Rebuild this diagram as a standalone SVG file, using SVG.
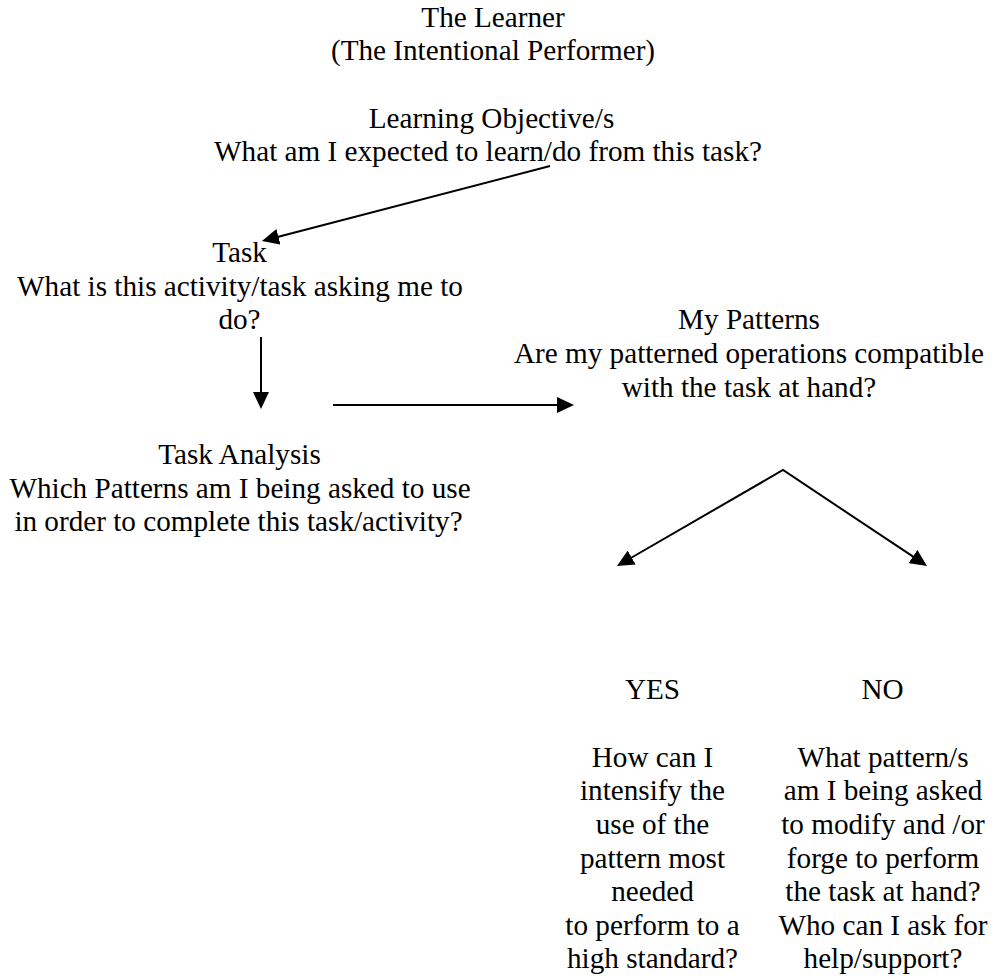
<svg xmlns="http://www.w3.org/2000/svg" width="996" height="979" viewBox="0 0 996 979">
  <style>
    text { font-family: "Liberation Serif", "Times New Roman", serif; font-size: 29.2px; fill: #000; text-anchor: middle; }
    .conn { stroke: #000; stroke-width: 2; fill: none; }
  </style>
  <defs>
    <marker id="arrow" markerUnits="userSpaceOnUse" markerWidth="17" markerHeight="16" refX="3" refY="8" orient="auto-start-reverse" viewBox="0 0 17 16">
      <path d="M0,0 L17,8 L0,16 Z" fill="#000"/>
    </marker>
  </defs>
  <rect width="996" height="979" fill="#fff"/>

  <g id="connectors">
    <line class="conn" x1="550" y1="166" x2="275.5" y2="237.5" marker-end="url(#arrow)"/>
    <line class="conn" x1="261" y1="337" x2="261" y2="395" marker-end="url(#arrow)"/>
    <line class="conn" x1="333" y1="405" x2="560" y2="405" marker-end="url(#arrow)"/>
    <path class="conn" d="M629.1,559 L783,470 L915.4,558.2" marker-start="url(#arrow)" marker-end="url(#arrow)"/>
  </g>

  <g id="learner">
    <text x="493" y="26.7">The Learner</text>
    <text x="493" y="60.3">(The Intentional Performer)</text>
  </g>

  <g id="objective">
    <text x="491.5" y="127.6">Learning Objective/s</text>
    <text x="488" y="161.2">What am I expected to learn/do from this task?</text>
  </g>

  <g id="task">
    <text x="239.5" y="262.1">Task</text>
    <text x="240" y="295.7">What is this activity/task asking me to</text>
    <text x="239.5" y="329.4">do?</text>
  </g>

  <g id="patterns">
    <text x="749" y="329.4">My Patterns</text>
    <text x="749" y="363">Are my patterned operations compatible</text>
    <text x="749" y="396.6">with the task at hand?</text>
  </g>

  <g id="analysis">
    <text x="239.5" y="463.9">Task Analysis</text>
    <text x="240" y="497.5">Which Patterns am I being asked to use</text>
    <text x="238.5" y="531.1">in order to complete this task/activity?</text>
  </g>

  <g id="yes">
    <text x="652.5" y="699.3">YES</text>
    <text x="652.5" y="766.6">How can I</text>
    <text x="652.5" y="800.2">intensify the</text>
    <text x="652.5" y="833.8">use of the</text>
    <text x="652.5" y="867.5">pattern most</text>
    <text x="652.5" y="901.1">needed</text>
    <text x="652.5" y="934.7">to perform to a</text>
    <text x="652.5" y="968.3">high standard?</text>
  </g>

  <g id="no">
    <text x="882.5" y="699.3">NO</text>
    <text x="883" y="766.6">What pattern/s</text>
    <text x="883" y="800.2">am I being asked</text>
    <text x="883" y="833.8">to modify and /or</text>
    <text x="883" y="867.5">forge to perform</text>
    <text x="883" y="901.1">the task at hand?</text>
    <text x="883" y="934.7">Who can I ask for</text>
    <text x="883" y="968.3">help/support?</text>
  </g>
</svg>
